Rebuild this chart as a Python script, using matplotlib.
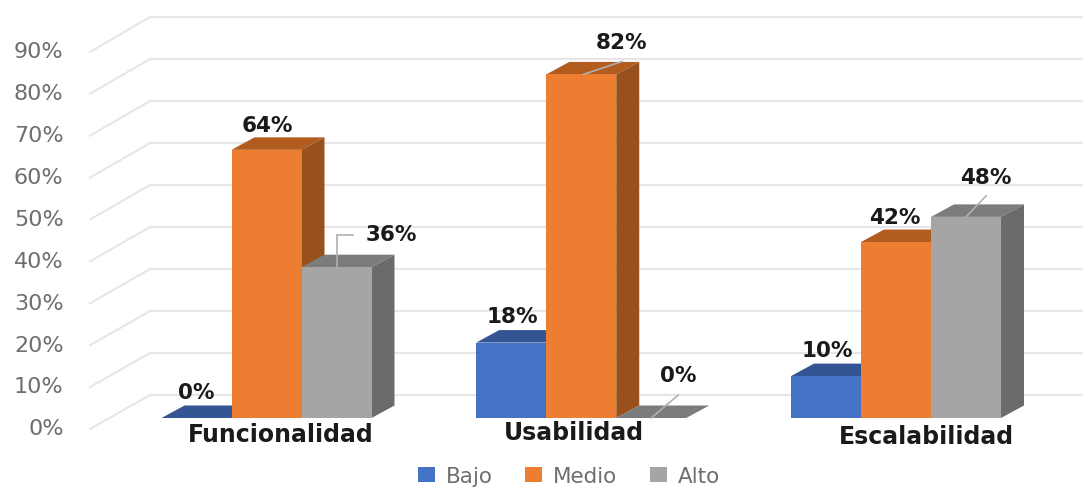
import matplotlib
matplotlib.use("Agg")
import matplotlib.pyplot as plt
from matplotlib.patches import Polygon, Patch

# ---- data ----
categories = ["Funcionalidad", "Usabilidad", "Escalabilidad"]
series_names = ["Bajo", "Medio", "Alto"]
bajo = [0, 18, 10]
medio = [64, 82, 42]
alto = [36, 0, 48]
tick_values = [0, 10, 20, 30, 40, 50, 60, 70, 80, 90]

# ---- styles ----
FRONT = ["#4472C4", "#ED7D31", "#A5A5A5"]
TOP = ["#335593", "#B25C20", "#7C7C7C"]
SIDE = ["#2F5597", "#98501C", "#6B6B6B"]
W, H = 1083, 489
GROUP_PX = 314.75
PCT_PX = 4.19
X0_PX, Y0_PX = 266.5, 419.0

plt.rcParams["font.family"] = "DejaVu Sans"
fig = plt.figure(figsize=(W / 100, H / 100), dpi=100, facecolor="white")
ax = fig.add_axes([0, 0, 1, 1])
ax.set_xlim(-X0_PX / GROUP_PX, (W - X0_PX) / GROUP_PX)
ax.set_ylim(-(H - Y0_PX) / PCT_PX, Y0_PX / PCT_PX)
ax.axis("off")

ux = 1 / GROUP_PX   # one pixel in x data units
uy = 1 / PCT_PX     # one pixel in y data units
bar_w = 70 * ux
dx, dy = 23 * ux, 12.5 * uy

# walls / gridlines
wall_l, wall_r = (90 - X0_PX) * ux, (150 - X0_PX) * ux
right_end = (W - X0_PX) * ux
for v in tick_values:
    yf = v - 11 * uy
    yb = v * (42 / 41.9) + 23 * uy
    ax.plot([wall_l, wall_r, right_end], [yf, yb, yb], color="#E6E6E6", lw=1.5,
            solid_joinstyle="miter", zorder=1)
    ax.annotate(f"{v}%", (wall_l, yf), xytext=(-19, 0.5), textcoords="offset points",
                ha="right", va="center", fontsize=16, color="#6E6E6E", zorder=5)

# bars
z = 2
for i in range(len(categories)):
    for j, vals in enumerate([bajo, medio, alto]):
        v = vals[i]
        l = i + (j - 1.5) * bar_w
        r = l + bar_w
        ax.add_patch(Polygon([(l, v), (r, v), (r + dx, v + dy), (l + dx, v + dy)],
                             fc=TOP[j], ec="none", zorder=z))
        if v > 0:
            ax.add_patch(Polygon([(r, 0), (r + dx, dy), (r + dx, v + dy), (r, v)],
                                 fc=SIDE[j], ec="none", zorder=z))
            ax.bar(l, v, width=bar_w, align="edge", color=FRONT[j], lw=0, zorder=z)
        z += 1

# data labels: (series, group) -> label offset from bar's front-top centre, in pixels
label_offsets = {
    (0, 0): (-0.5, 26), (1, 0): (0.5, 25), (2, 0): (54.5, 33),
    (0, 1): (1, 27), (1, 1): (40, 32), (2, 1): (27, 43),
    (0, 2): (1, 26), (1, 2): (-1, 25), (2, 2): (20, 40),
}
leaders = {
    (2, 0): [(0, 0), (0, 32), (16, 32)],
    (1, 1): [(2, 0), (41, 13)],
    (2, 1): [(0, 0), (27, 23)],
    (2, 2): [(0, 0), (20, 21)],
}
PT = 72 / 100
for j, vals in enumerate([bajo, medio, alto]):
    for i, v in enumerate(vals):
        cx = i + (j - 1) * bar_w
        ox, oy = label_offsets[(j, i)]
        if (j, i) in leaders:
            pts = leaders[(j, i)]
            for (a, b), (c, d) in zip(pts[:-1], pts[1:]):
                ax.plot([cx + a * ux, cx + c * ux], [v + b * uy, v + d * uy],
                        color="#B0B0B0", lw=1.2, zorder=30)
        ax.annotate(f"{v}%", (cx, v), xytext=(ox * PT, oy * PT), textcoords="offset points",
                    ha="center", va="center", fontsize=15.5, fontweight="bold",
                    color="#1A1A1A", zorder=31)

# category labels
cat_offsets = [14.5, -7, 30.5]
cat_y = [-16.5, -14.5, -18.5]
for i, name in enumerate(categories):
    ax.text(i + cat_offsets[i] * ux, cat_y[i] * uy, name, ha="center", va="center",
            fontsize=17, fontweight="bold", color="#1A1A1A", zorder=32)

# legend
handles = [Patch(fc=c, ec="none", label=n) for c, n in zip(FRONT, series_names)]
ax.legend(handles=handles, ncol=3, loc="center", frameon=False,
          bbox_to_anchor=(569 / W, 1 - 477 / H), fontsize=15.5, labelcolor="#6E6E6E",
          handlelength=0.8, handleheight=0.7, handletextpad=0.5, columnspacing=1.5,
          borderpad=0)

fig.savefig("out.png", dpi=100, facecolor="white")
